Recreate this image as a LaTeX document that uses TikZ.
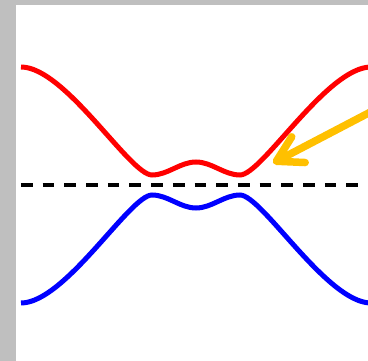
\documentclass[tikz,border=0pt]{standalone}
\usepackage{tikz}
\usetikzlibrary{arrows.meta}
\definecolor{pointerorange}{RGB}{255,192,0}
\definecolor{framegrey}{RGB}{191,191,191}

\begin{document}
\begin{tikzpicture}[x=1pt,y=-1pt,
  curve/.style={line width=5pt},
  midline/.style={line width=3.5pt,dash pattern=on 11.7pt off 10pt}]
  % Fons
  \useasboundingbox (0,0) rectangle (368,361);
  \fill[framegrey] (0,0) rectangle (368,361);
  \fill[white] (16,5) rectangle (368,361);
  \begin{scope}
    \clip (16,5) rectangle (368,361);
    % Corba superior
    \draw[curve,red] (21,67) .. controls (65,67) and (130,175) .. (152,175)
      .. controls (168,175) and (180,162) .. (196,162)
      .. controls (212,162) and (224,175) .. (240,175)
      .. controls (262,175) and (327,67) .. (371,67);
    % Linia central
    \draw[midline] (21,185) -- (360,185);
    % Corba inferior
    \draw[curve,blue] (21,303) .. controls (65,303) and (130,195) .. (152,195)
      .. controls (168,195) and (180,208) .. (196,208)
      .. controls (212,208) and (224,195) .. (240,195)
      .. controls (262,195) and (327,303) .. (371,303);
    % Fletxa
    \coordinate (tail) at (382,106);
    \coordinate (tip) at (273,163);
    \draw[pointerorange,line width=7.5pt,line cap=round,
      -{Straight Barb[length=25pt,width=29pt,round]}] (tail) -- (tip);
  \end{scope}
\end{tikzpicture}
\end{document}
